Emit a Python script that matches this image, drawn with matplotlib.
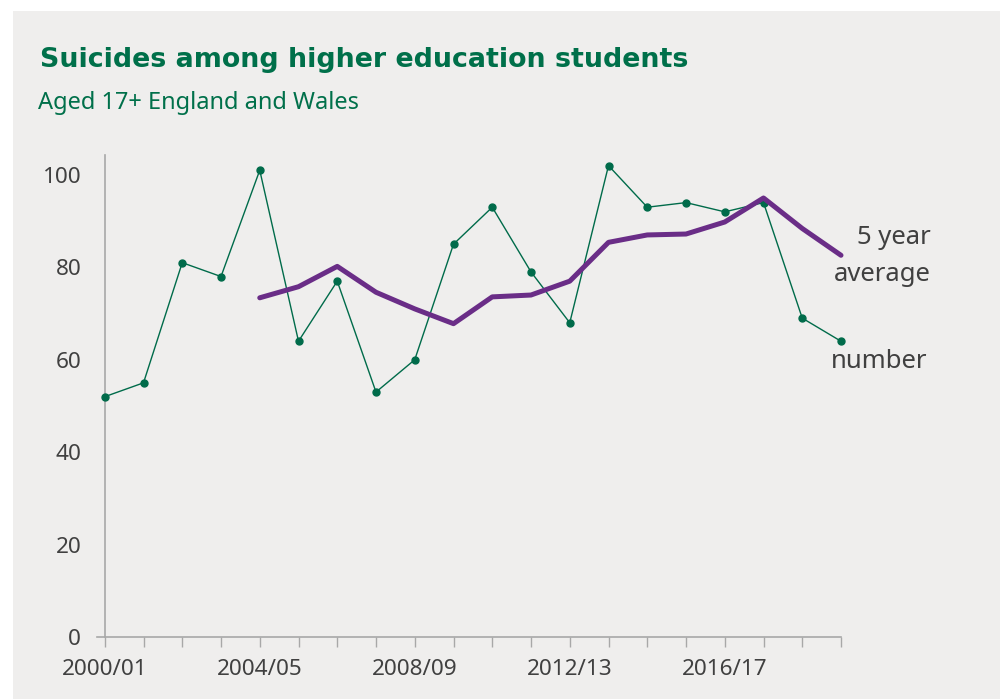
import matplotlib
matplotlib.use("Agg")
import matplotlib.pyplot as plt
from matplotlib.patches import Rectangle

years = ["2000/01", "2001/02", "2002/03", "2003/04", "2004/05", "2005/06", "2006/07",
         "2007/08", "2008/09", "2009/10", "2010/11", "2011/12", "2012/13", "2013/14",
         "2014/15", "2015/16", "2016/17", "2017/18", "2018/19", "2019/20"]
number = [52, 55, 81, 78, 101, 64, 77, 53, 60, 85, 93, 79, 68, 102, 93, 94, 92, 94, 69, 64]
avg_years = years[4:]
avg5 = [73.4, 75.8, 80.2, 74.6, 71.0, 67.8, 73.6, 74.0, 77.0, 85.4, 87.0, 87.2, 89.8,
        95.0, 88.4, 82.6]
shown_ticks = ["2000/01", "2004/05", "2008/09", "2012/13", "2016/17"]
yticks = [0, 20, 40, 60, 80, 100]

GREEN = "#006b4a"
PURPLE = "#6a2d87"
TXT = "#404040"
AX = "#a8a8a8"
BG = "#efeeed"

plt.rcParams['font.family'] = ['Noto Sans', 'DejaVu Sans']

fig = plt.figure(figsize=(10, 6.99), dpi=100)
fig.patch.set_facecolor("white")
fig.add_artist(Rectangle((0.013, 0), 0.987, 1 - 11/699, transform=fig.transFigure,
                         facecolor=BG, edgecolor="none", zorder=-10))

ax = fig.add_axes([0.097, 62/699, 0.744, (637-155)/699])
ax.set_facecolor("none")

xi = list(range(len(years)))
xa = [years.index(y) for y in avg_years]
ax.plot(xi, number, color=GREEN, lw=1, marker="o", ms=5, zorder=3, clip_on=False)
ax.plot(xa, avg5, color=PURPLE, lw=3.6, solid_capstyle="round", solid_joinstyle="round",
        zorder=4, clip_on=False)

ax.set_xlim(-0.2, 19)
ax.set_ylim(0, 104.3)
for s in ["top", "right"]:
    ax.spines[s].set_visible(False)
ax.spines["left"].set_position(("data", 0))
for s in ["left", "bottom"]:
    ax.spines[s].set_color(AX)
    ax.spines[s].set_linewidth(1.2)

ax.set_xticks(xi)
ax.set_xticklabels([y if y in shown_ticks else "" for y in years])
ax.tick_params(axis="x", length=7, width=1, color=AX, direction="out", pad=8.5,
               labelsize=16.2, labelcolor=TXT)
ax.set_yticks(yticks)
ax.set_yticklabels([str(v) for v in yticks])
ax.tick_params(axis="y", length=0, pad=17, labelsize=16.2, labelcolor=TXT)

fig.text(0.931, 1 - 238/699, "5 year", fontsize=18.5, color=TXT, ha="right", va="center")
fig.text(0.931, 1 - 274/699, "average", fontsize=18.5, color=TXT, ha="right", va="center")
fig.text(0.927, 1 - 361/699, "number", fontsize=18.5, color=TXT, ha="right", va="center")

fig.text(0.040, 1 - 60/699, "Suicides among higher education students", fontsize=19.35,
         fontweight="bold", color="#00704a", family=["DejaVu Sans"], va="center", ha="left")
fig.text(0.038, 1 - 103/699, "Aged 17+ England and Wales", fontsize=17,
         color="#00704a", va="center", ha="left")

fig.savefig("out.png", dpi=100, facecolor="white")
